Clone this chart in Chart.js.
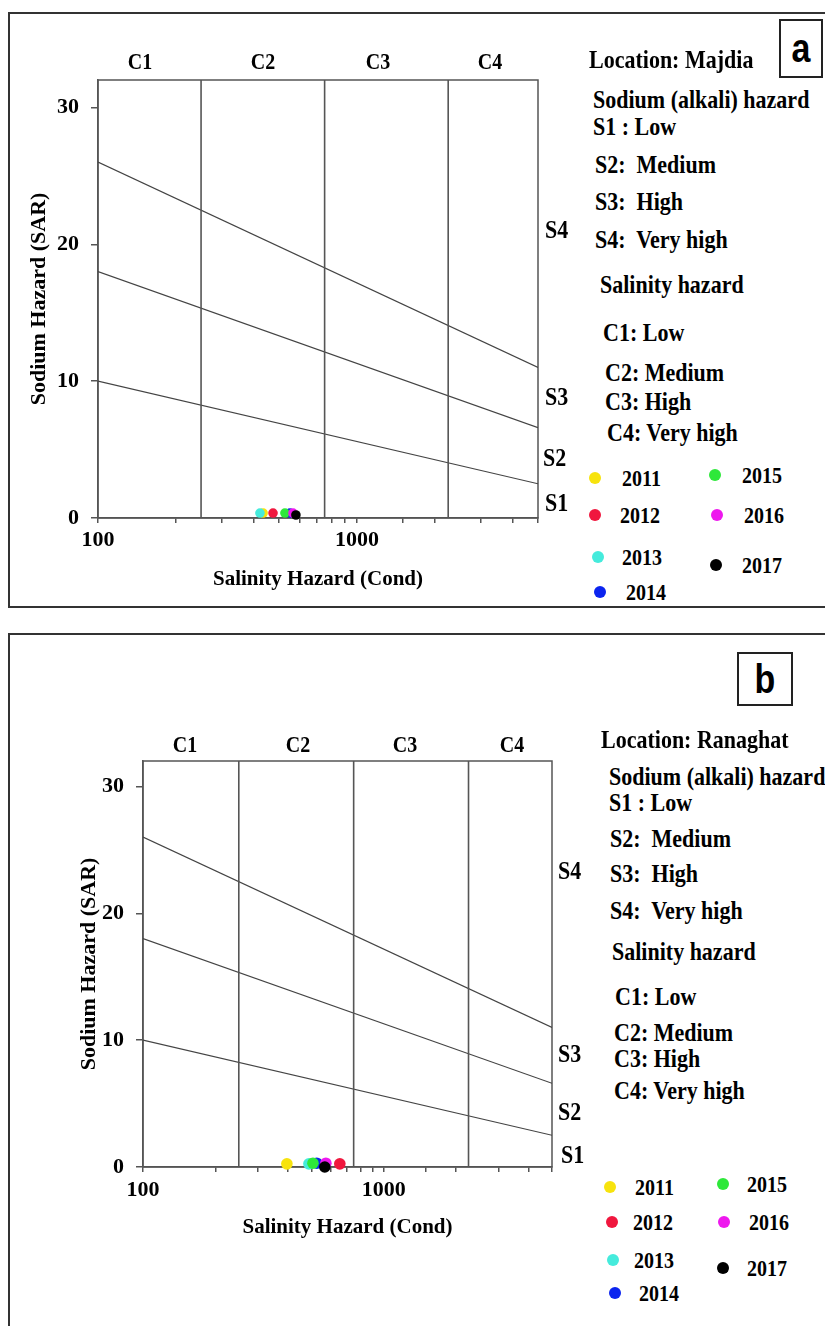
<!DOCTYPE html>
<html lang="en">
<head>
  <meta charset="UTF-8" />
  <title>Salinity / Sodium hazard diagram</title>
  <script src="https://cdn.jsdelivr.net/npm/chart.js"></script>
  <style>
    body {
      margin: 0;
      background: white;
      font-family: 'Liberation Serif', serif;
    }

    #page {
      position: relative;
      width: 825px;
      height: 1326px;
      overflow: hidden;
    }

    .panel {
      position: absolute;
      border: 2px solid #333;
      box-sizing: border-box;
    }

    .tag {
      position: absolute;
      border: 2px solid #222;
      box-sizing: border-box;
      display: flex;
      align-items: center;
      justify-content: center;
    }
    .tag span {
      font: bold 34px 'Liberation Sans', sans-serif;
      transform: scaleY(1.2);
    }

    .t {
      position: absolute;
      font-weight: bold;
      font-size: 22px;
      white-space: pre;
      line-height: 1;
      transform: translateY(-50%) scaleY(1.15);
      transform-origin: left center;
    }

    .c { font-size: 20px; transform: translate(-50%, -50%) scaleY(1.15); transform-origin: center; }
    .yr { font-size: 20px; }

    .dot {
      position: absolute;
      width: 12px;
      height: 12px;
      border-radius: 50%;
      transform: translate(-50%, -50%);
    }

    canvas { position: absolute; left: 0; }
  </style>
</head>
<body>
<div id="page">

  <!-- panel a -->
  <div class="panel" style="left:8px;top:12px;width:840px;height:596px"></div>
  <div class="tag" style="left:779px;top:19px;width:44px;height:59px"><span>a</span></div>
  <canvas id="chart-a" width="560" height="607" style="top:0"></canvas>

  <div class="t c" style="left:140px;top:61px">C1</div>
  <div class="t c" style="left:263px;top:61px">C2</div>
  <div class="t c" style="left:378px;top:61px">C3</div>
  <div class="t c" style="left:490px;top:61px">C4</div>

  <div class="t" style="left:545px;top:230px">S4</div>
  <div class="t" style="left:545px;top:397px">S3</div>
  <div class="t" style="left:543px;top:458px">S2</div>
  <div class="t" style="left:545px;top:503px">S1</div>

  <div class="t" style="left:589px;top:60px">Location: Majdia</div>
  <div class="t" style="left:593px;top:100px">Sodium (alkali) hazard</div>
  <div class="t" style="left:593px;top:127px">S1 : Low</div>
  <div class="t" style="left:595px;top:165px">S2:  Medium</div>
  <div class="t" style="left:595px;top:202px">S3:  High</div>
  <div class="t" style="left:595px;top:240px">S4:  Very high</div>
  <div class="t" style="left:600px;top:285px">Salinity hazard</div>
  <div class="t" style="left:603px;top:333px">C1: Low</div>
  <div class="t" style="left:605px;top:373px">C2: Medium</div>
  <div class="t" style="left:605px;top:402px">C3: High</div>
  <div class="t" style="left:607px;top:433px">C4: Very high</div>
  <div id="legend-a"></div>

  <!-- panel b -->
  <div class="panel" style="left:8px;top:633px;width:840px;height:720px"></div>
  <div class="tag" style="left:737px;top:652px;width:56px;height:54px"><span>b</span></div>
  <canvas id="chart-b" width="600" height="626" style="top:700px"></canvas>

  <div class="t c" style="left:185px;top:744px">C1</div>
  <div class="t c" style="left:298px;top:744px">C2</div>
  <div class="t c" style="left:405px;top:744px">C3</div>
  <div class="t c" style="left:512px;top:744px">C4</div>

  <div class="t" style="left:558px;top:871px">S4</div>
  <div class="t" style="left:558px;top:1054px">S3</div>
  <div class="t" style="left:558px;top:1112px">S2</div>
  <div class="t" style="left:561px;top:1155px">S1</div>

  <div class="t" style="left:601px;top:740px">Location: Ranaghat</div>
  <div class="t" style="left:609px;top:777px">Sodium (alkali) hazard</div>
  <div class="t" style="left:609px;top:803px">S1 : Low</div>
  <div class="t" style="left:610px;top:839px">S2:  Medium</div>
  <div class="t" style="left:610px;top:874px">S3:  High</div>
  <div class="t" style="left:610px;top:911px">S4:  Very high</div>
  <div class="t" style="left:612px;top:952px">Salinity hazard</div>
  <div class="t" style="left:615px;top:997px">C1: Low</div>
  <div class="t" style="left:614px;top:1033px">C2: Medium</div>
  <div class="t" style="left:614px;top:1059px">C3: High</div>
  <div class="t" style="left:614px;top:1091px">C4: Very high</div>
  <div id="legend-b"></div>
</div>

<script>
  // ---- data ----
  const years = ['2011', '2012', '2013', '2014', '2015', '2016', '2017'];
  const yearColors = ['#f7e30d', '#f0173e', '#45ebdc', '#0b24ef', '#2ee83a', '#ee18ee', '#000000'];

  // conductivity (µS/cm) and SAR per year
  const condMajdia = [434, 474, 422, 551, 527, 566, 581];
  const sarMajdia = [0.36, 0.36, 0.36, 0.36, 0.36, 0.36, 0.22];
  const condRanaghat = [396, 657, 489, 527, 508, 575, 569];
  const sarRanaghat = [0.25, 0.25, 0.25, 0.3, 0.3, 0.3, 0.0];

  // class boundaries of the diagram
  const salinityBounds = [250, 750, 2250];
  const sodiumAt100 = [10, 18, 26];
  const sodiumAt5000 = [2.5, 6.6, 11];
  const condRange = [100, 5000];
  const sarRange = [0, 32];
  const xTickLabels = [100, 1000];
  const yTicks = [0, 10, 20, 30];

  const SERIF = "'Liberation Serif', serif";
  const AXIS = '#555';

  const frame = {
    id: 'frame',
    beforeDatasetsDraw(c) {
      const a = c.chartArea, ctx = c.ctx;
      ctx.save();
      ctx.strokeStyle = AXIS;
      ctx.lineWidth = 1.5;
      ctx.strokeRect(a.left, a.top, a.right - a.left, a.bottom - a.top);
      ctx.restore();
    }
  };

  function makeChart(id, cond, sar, L) {
    const ds = [];
    years.forEach((yr, i) => ds.push({
      type: 'scatter', label: yr,
      data: [{ x: cond[i], y: sar[i] }],
      backgroundColor: yearColors[i], borderWidth: 0,
      pointRadius: L.r, order: 7 - i, clip: false
    }));
    salinityBounds.forEach(c => ds.push({
      type: 'line', data: [{ x: c, y: sarRange[0] }, { x: c, y: sarRange[1] }],
      borderColor: AXIS, borderWidth: 1.6, pointRadius: 0, order: 20
    }));
    sodiumAt100.forEach((s, i) => ds.push({
      type: 'line', data: [{ x: condRange[0], y: s }, { x: condRange[1], y: sodiumAt5000[i] }],
      borderColor: '#444', borderWidth: 1.2, pointRadius: 0, order: 20
    }));

    const tickFont = { family: SERIF, weight: 'bold', size: 22 };
    const titleFont = { family: SERIF, weight: 'bold', size: 22 };

    return new Chart(document.getElementById(id), {
      type: 'scatter',
      data: { datasets: ds },
      options: {
        responsive: false,
        animation: false,
        events: [],
        layout: { padding: L.pad },
        plugins: { legend: { display: false }, tooltip: { enabled: false } },
        scales: {
          x: {
            type: 'logarithmic', min: condRange[0], max: condRange[1],
            afterFit: s => { s.height = 75; },
            grid: { drawOnChartArea: false, tickLength: 5, color: AXIS, lineWidth: 1.5 },
            border: { color: AXIS, width: 1.5 },
            ticks: {
              autoSkip: false, maxRotation: 0, padding: L.xpad, color: '#000', font: tickFont,
              callback: v => xTickLabels.some(t => Math.abs(t - v) < 1e-6) ? String(v) : ''
            },
            title: { display: true, text: 'Salinity Hazard (Cond)', color: '#000',
                     font: { family: SERIF, weight: 'bold', size: 21 }, padding: { top: 0, bottom: L.xtp } }
          },
          y: {
            min: sarRange[0], max: sarRange[1],
            afterBuildTicks: s => { s.ticks = yTicks.map(v => ({ value: v })); },
            afterFit: s => { s.width = L.yw; },
            grid: { drawOnChartArea: false, tickLength: 7, color: AXIS, lineWidth: 1.5 },
            border: { color: AXIS, width: 1.5 },
            ticks: { padding: 12, color: '#000', font: tickFont },
            title: { display: true, text: 'Sodium Hazard (SAR)', color: '#000',
                     font: titleFont, padding: { top: L.ytp, bottom: 0 } }
          }
        }
      },
      plugins: [frame]
    });
  }

  makeChart('chart-a', condMajdia, sarMajdia,
    { pad: { left: 0, top: 80, right: 22, bottom: 14 }, yw: 98, xpad: 4, xtp: 1, ytp: 26, r: 4.8 });
  makeChart('chart-b', condRanaghat, sarRanaghat,
    { pad: { left: 0, top: 61, right: 48, bottom: 84 }, yw: 143, xpad: 5, xtp: 2, ytp: 76, r: 5.8 });

  // legends (dot + year), laid out as in the figure
  const legendA = [[595, 478, 622], [595, 515, 620], [598, 557, 622], [600, 592, 626],
                   [715, 475, 742], [717, 515, 744], [716, 565, 742]];
  const legendB = [[610, 1187, 635], [612, 1222, 633], [613, 1260, 634], [615, 1293, 639],
                   [723, 1184, 747], [724, 1222, 749], [723, 1268, 747]];

  function makeLegend(id, pos) {
    const el = document.getElementById(id);
    el.innerHTML = years.map((yr, i) => {
      const [dx, dy, tx] = pos[i];
      return `<div class="dot" style="left:${dx}px;top:${dy}px;background:${yearColors[i]}"></div>` +
             `<div class="t yr" style="left:${tx}px;top:${dy}px">${yr}</div>`;
    }).join('');
  }
  makeLegend('legend-a', legendA);
  makeLegend('legend-b', legendB);
</script>
</body>
</html>
